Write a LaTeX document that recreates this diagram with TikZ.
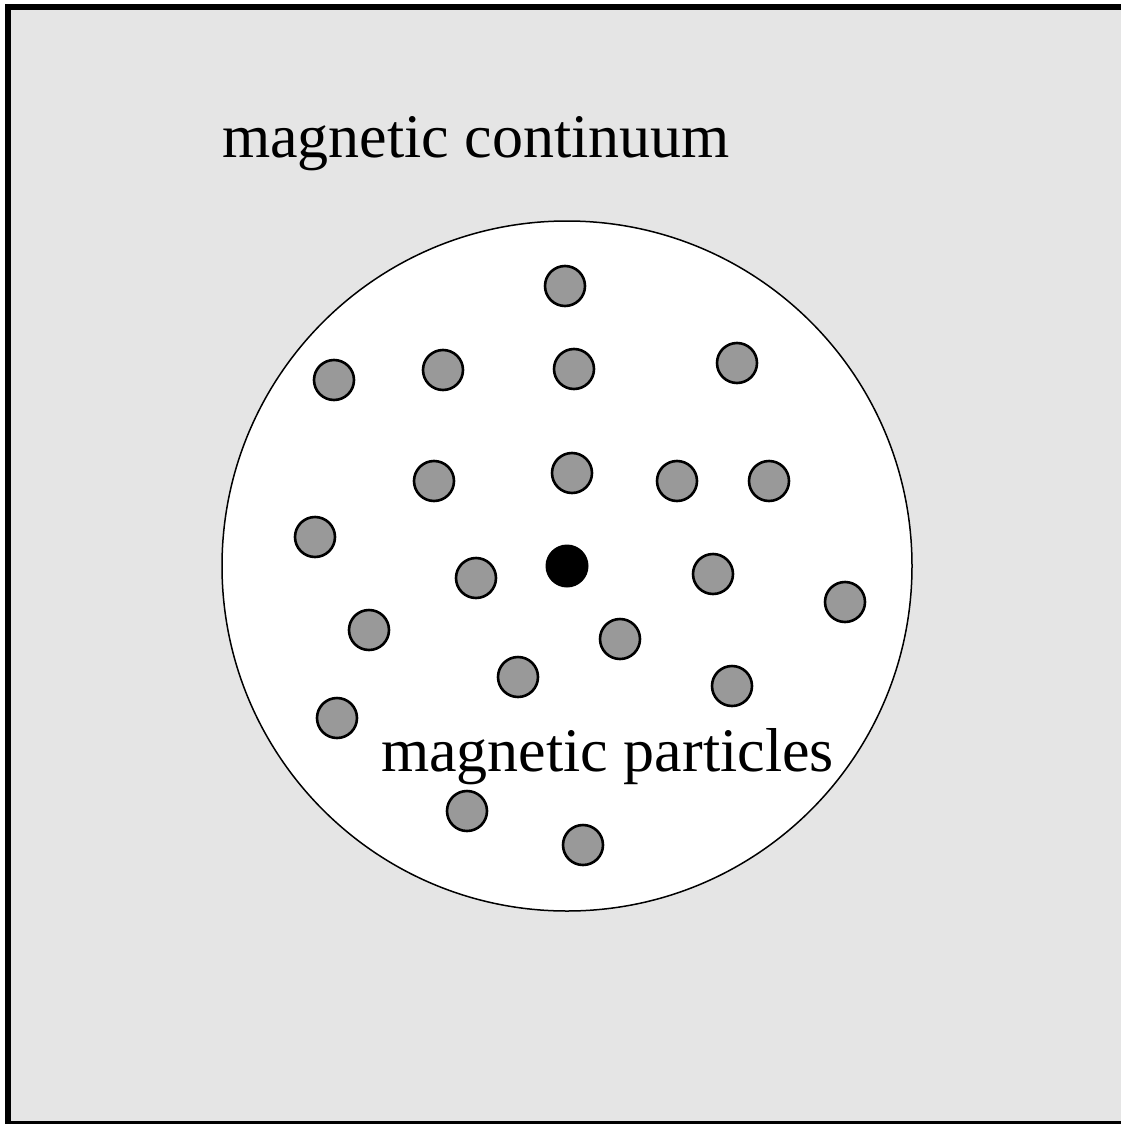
\documentclass[tikz,border=0pt]{standalone}
\usepackage{fontspec}
\setmainfont{Liberation Serif}
\definecolor{bggray}{HTML}{E5E5E5}
\definecolor{partgray}{HTML}{999999}
\begin{document}
\begin{tikzpicture}[x=1pt,y=-1pt,
  particle/.style={circle,draw=black,line width=2.6pt,fill=partgray,minimum size=40pt,inner sep=0pt},
  centerdot/.style={circle,fill=black,minimum size=43pt,inner sep=0pt},
  label/.style={font=\fontsize{62}{70}\selectfont,inner sep=0pt,anchor=base west}]
\useasboundingbox (0,0) rectangle (1121,1124);
\draw[line width=6pt,fill=bggray] (8,7) rectangle (1127,1124);
\node[circle,draw=black,line width=1.5pt,fill=white,minimum size=690pt,inner sep=0pt] (region) at (567,566) {};
\node[label] (cont) at (222,157) {magnetic continuum};
\node[centerdot] (c0) at (567,566) {};
\node[particle] (p1) at (565,286) {};
\node[particle] (p2) at (334,380) {};
\node[particle] (p3) at (443,370) {};
\node[particle] (p4) at (574,369) {};
\node[particle] (p5) at (737,363) {};
\node[particle] (p6) at (434,481) {};
\node[particle] (p7) at (572,473) {};
\node[particle] (p8) at (677,481) {};
\node[particle] (p9) at (769,481) {};
\node[particle] (p10) at (315,537) {};
\node[particle] (p11) at (476,578) {};
\node[particle] (p12) at (713,574) {};
\node[particle] (p13) at (845,602) {};
\node[particle] (p14) at (369,630) {};
\node[particle] (p15) at (620,639) {};
\node[particle] (p16) at (518,677) {};
\node[particle] (p17) at (732,686) {};
\node[particle] (p18) at (337,718) {};
\node[particle] (p19) at (467,811) {};
\node[particle] (p20) at (583,845) {};
\node[label] (part) at (381,771) {magnetic particles};
\end{tikzpicture}
\end{document}
